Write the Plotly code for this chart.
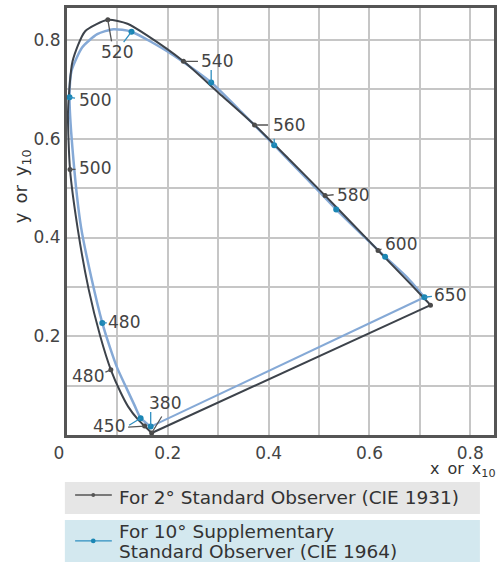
import plotly.graph_objects as go

# ---------------- data ----------------
# CIE 1931 2-degree standard observer spectral locus
WL_2 = [380, 420, 440, 450, 460, 470, 475, 480, 485, 490, 495, 500, 505, 510, 515,
        520, 525, 530, 540, 550, 560, 570, 580, 590, 600, 620, 650, 700]
X_2 = [0.168, 0.166, 0.161, 0.154, 0.141, 0.121, 0.106, 0.087, 0.066, 0.043, 0.022, 0.006,
       0.002, 0.011, 0.036, 0.081, 0.120, 0.158, 0.231, 0.302, 0.372, 0.442, 0.512, 0.566,
       0.617, 0.684, 0.712, 0.721]
Y_2 = [0.004, 0.006, 0.011, 0.018, 0.031, 0.058, 0.087, 0.132, 0.200, 0.295, 0.413, 0.538,
       0.655, 0.757, 0.818, 0.841, 0.833, 0.810, 0.757, 0.692, 0.628, 0.557, 0.485, 0.428,
       0.374, 0.303, 0.273, 0.263]

# CIE 1964 10-degree supplementary standard observer spectral locus
WL_10 = [380, 420, 440, 450, 460, 465, 470, 475, 480, 485, 490, 495, 500, 505, 510, 515,
         518, 520, 530, 540, 550, 560, 570, 580, 590, 600, 620, 650]
X_10 = [0.166, 0.163, 0.155, 0.146, 0.134, 0.118, 0.100, 0.085, 0.070, 0.048, 0.028, 0.013,
        0.005, 0.009, 0.030, 0.060, 0.092, 0.128, 0.207, 0.286, 0.349, 0.411, 0.473, 0.534,
        0.585, 0.631, 0.676, 0.709]
Y_10 = [0.017, 0.019, 0.026, 0.034, 0.060, 0.095, 0.135, 0.178, 0.227, 0.320, 0.420, 0.555,
        0.684, 0.738, 0.785, 0.812, 0.822, 0.817, 0.772, 0.714, 0.651, 0.587, 0.522, 0.457,
        0.406, 0.361, 0.318, 0.279]

MARK_WL_2 = [380, 450, 480, 500, 520, 540, 560, 580, 600, 700]
MARK_WL_10 = [380, 450, 480, 500, 520, 540, 560, 580, 600, 650]

X_TICKS = [0, 0.2, 0.4, 0.6, 0.8]
X_TICK_TEXT = ["0\u00a0\u00a0\u00a0", "0.2", "0.4", "0.6", "0.8"]
Y_TICKS = [0.2, 0.4, 0.6, 0.8]
Y_TICK_TEXT = ["0.2", "0.4", "0.6", "0.8"]

LEGEND_2 = "For 2\u00b0 Standard Observer (CIE 1931)"
LEGEND_10 = ["For 10\u00b0 Supplementary", "Standard Observer (CIE 1964)"]

# ---------------- styles ----------------
GRAY = "#3d434b"
BLUE_LINE = "#85a9d6"
BLUE_DOT = "#1b86b4"
GRID = "#c6c6c6"
FRAME = "#555555"
TXT = "#444444"
FONT = "DejaVu Sans"

pt2 = {w: (x, y) for w, x, y in zip(WL_2, X_2, Y_2)}
pt10 = {w: (x, y) for w, x, y in zip(WL_10, X_10, Y_10)}
PTS = {"2": pt2, "10": pt10}

# label placement: (text, series, wavelength, dx px, dy px (down +))
LABELS = [
    ("520", "2", 520, 9, 32),
    ("540", "2", 540, 34, 0),
    ("560", "2", 560, 34, 0),
    ("580", "2", 580, 28, -1),
    ("600", "2", 600, 23, -6),
    ("650", "10", 650, 26, -2),
    ("500", "10", 500, 25, 3),
    ("500", "2", 500, 25, -1),
    ("480", "10", 480, 22, -1),
    ("480", "2", 480, -23, 6),
    ("450", "2", 450, -36, 0),
    ("380", "10", 380, 14, -24),
]
# leader lines: (series, wavelength, tail dx, tail dy)
LEADERS = [
    ("2", 520, 4, 23), ("10", 520, -9, 12),
    ("2", 540, 16, 0), ("10", 540, 0, -14),
    ("2", 560, 15, 0), ("10", 560, 0, -8),
    ("2", 580, 10, -1), ("2", 600, 5, -2),
    ("10", 650, 9, -1),
    ("10", 500, 7, 1), ("2", 500, 7, 0),
    ("10", 480, 6, 0), ("2", 480, -7, 3),
    ("2", 450, -18, 1), ("10", 450, -13, 8),
    ("10", 380, 0, -16), ("2", 380, 11, -18),
]

fig = go.Figure()

# 10-degree locus (light blue) and its closing line
fig.add_trace(go.Scatter(x=X_10, y=Y_10, mode="lines",
                         line=dict(color=BLUE_LINE, width=2.5, shape="spline", smoothing=0.6),
                         hoverinfo="skip"))
fig.add_trace(go.Scatter(x=[X_10[-1], X_10[0]], y=[Y_10[-1], Y_10[0]], mode="lines",
                         line=dict(color=BLUE_LINE, width=2), hoverinfo="skip"))
# 2-degree locus (dark gray) and its closing line
fig.add_trace(go.Scatter(x=X_2, y=Y_2, mode="lines",
                         line=dict(color=GRAY, width=2, shape="spline", smoothing=0.6),
                         hoverinfo="skip"))
fig.add_trace(go.Scatter(x=[X_2[-1], X_2[0]], y=[Y_2[-1], Y_2[0]], mode="lines",
                         line=dict(color=GRAY, width=2), hoverinfo="skip"))

# markers
fig.add_trace(go.Scatter(x=[pt2[w][0] for w in MARK_WL_2], y=[pt2[w][1] for w in MARK_WL_2],
                         mode="markers", marker=dict(color="#4a4a4a", size=5), hoverinfo="skip"))
fig.add_trace(go.Scatter(x=[pt10[w][0] for w in MARK_WL_10], y=[pt10[w][1] for w in MARK_WL_10],
                         mode="markers", marker=dict(color=BLUE_DOT, size=6), hoverinfo="skip"))

annotations = []
for series, w, ax, ay in LEADERS:
    x, y = PTS[series][w]
    annotations.append(dict(x=x, y=y, xref="x", yref="y", text="", showarrow=True,
                            ax=ax, ay=ay, arrowhead=0, arrowwidth=1.3, standoff=0,
                            arrowcolor="#555555" if series == "2" else "#2f8fc0"))
for text, series, w, dx, dy in LABELS:
    x, y = PTS[series][w]
    annotations.append(dict(x=x, y=y, xref="x", yref="y", text=text, showarrow=False,
                            xshift=dx, yshift=-dy, xanchor="center", yanchor="middle",
                            font=dict(family=FONT, size=17, color=TXT)))

# axis titles
annotations.append(dict(x=1.0, y=-0.081, xref="paper", yref="paper", xanchor="right",
                        yanchor="middle", xshift=4, showarrow=False,
                        text="x\u2002or\u2002x<sub>10</sub>",
                        font=dict(family=FONT, size=16, color="#333333")))
annotations.append(dict(x=-0.105, y=0.583, xref="paper", yref="paper", xanchor="center",
                        yanchor="middle", textangle=-90, showarrow=False,
                        text="y\u2002or\u2002y<sub>10</sub>",
                        font=dict(family=FONT, size=18, color="#333333")))

# legend text
annotations.append(dict(x=0.116, y=-0.147, xref="paper", yref="paper", xanchor="left",
                        yanchor="middle", showarrow=False, text=LEGEND_2,
                        font=dict(family=FONT, size=18.5, color="#333333")))
annotations.append(dict(x=0.116, y=-0.227, xref="paper", yref="paper", xanchor="left",
                        yanchor="middle", showarrow=False, text=LEGEND_10[0],
                        font=dict(family=FONT, size=18.5, color="#333333")))
annotations.append(dict(x=0.116, y=-0.273, xref="paper", yref="paper", xanchor="left",
                        yanchor="middle", showarrow=False, text=LEGEND_10[1],
                        font=dict(family=FONT, size=18.5, color="#333333")))

shapes = [
    dict(type="rect", xref="paper", yref="paper", x0=-0.005, x1=0.967, y0=-0.110, y1=-0.185,
         fillcolor="#e6e6e6", line=dict(width=0), layer="below"),
    dict(type="rect", xref="paper", yref="paper", x0=-0.005, x1=0.967, y0=-0.199, y1=-0.31,
         fillcolor="#d3e8ef", line=dict(width=0), layer="below"),
    dict(type="line", xref="paper", yref="paper", x0=0.019, x1=0.105, y0=-0.1405, y1=-0.1405,
         line=dict(color="#555555", width=1.3)),
    dict(type="circle", xref="paper", yref="paper", x0=0.057, x1=0.066, y0=-0.136, y1=-0.145,
         fillcolor="#555555", line=dict(width=0)),
    dict(type="line", xref="paper", yref="paper", x0=0.019, x1=0.105, y0=-0.248, y1=-0.248,
         line=dict(color="#2f8fc0", width=1.3)),
    dict(type="circle", xref="paper", yref="paper", x0=0.056, x1=0.067, y0=-0.2425, y1=-0.2535,
         fillcolor=BLUE_DOT, line=dict(width=0)),
]

axis_common = dict(showline=True, mirror=True, linecolor=FRAME, linewidth=3, zeroline=False,
                   showgrid=True, gridcolor=GRID, gridwidth=2, ticks="outside",
                   tickcolor="rgba(0,0,0,0)",
                   tickfont=dict(family=FONT, size=17, color=TXT))

fig.update_layout(
    width=500, height=562,
    margin=dict(l=67, r=3, t=8, b=127),
    plot_bgcolor="white", paper_bgcolor="white",
    showlegend=False,
    xaxis=dict(range=[0, 0.847], tickvals=X_TICKS, ticktext=X_TICK_TEXT, ticklen=1,
               minor=dict(dtick=0.1, tick0=0, showgrid=True, gridcolor=GRID, gridwidth=2,
                          ticks=""),
               **axis_common),
    yaxis=dict(range=[0, 0.865], tickvals=Y_TICKS, ticktext=Y_TICK_TEXT, ticklen=0,
               minor=dict(dtick=0.1, tick0=0, showgrid=True, gridcolor=GRID, gridwidth=2,
                          ticks=""),
               **axis_common),
    annotations=annotations,
    shapes=shapes,
)

fig.write_html("out.html", config={"displayModeBar": False},
               post_script="document.body.style.margin='0px';document.body.style.overflow='hidden';")
